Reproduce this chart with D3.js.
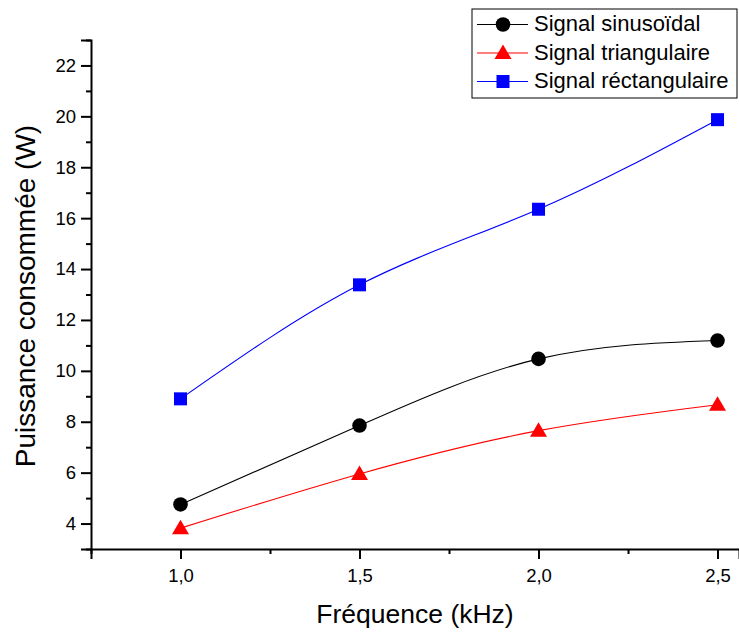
<!DOCTYPE html>
<html>
<head>
<meta charset="utf-8">
<script src="https://cdn.jsdelivr.net/npm/d3@7"></script>
<style>
  body { margin: 0; background: #fff; }
  text { font-family: "Liberation Sans", Arial, sans-serif; fill: #000; }
</style>
</head>
<body>
<div id="chart"></div>
<script>
// frequencies (kHz)
const freq = [1.0, 1.5, 2.0, 2.5];
// power (W) per signal
const sinus = [4.75, 7.85, 10.47, 11.19];
const triangle = [3.82, 5.95, 7.65, 8.67];
const rectangle = [8.9, 13.38, 16.35, 19.87];
const seriesNames = ["Signal sinusoïdal", "Signal triangulaire", "Signal réctangulaire"];
const yTicks = [4, 6, 8, 10, 12, 14, 16, 18, 20, 22];
const yMinor = [3, 5, 7, 9, 11, 13, 15, 17, 19, 21, 23];
const xTicks = [1.0, 1.5, 2.0, 2.5];
const xMinor = [0.75, 1.25, 1.75, 2.25];

const width = 739, height = 635;
const svg = d3.select("#chart").append("svg")
  .attr("width", width).attr("height", height);

const x = d3.scaleLinear().domain([0.75, 2.56]).range([91, 739]);
const y = d3.scaleLinear().domain([3, 23]).range([549, 40]);
const fmt = d3.format(".1f");

// y axis
const yAxis = svg.append("g").attr("transform", "translate(91,0)");
yAxis.call(d3.axisLeft(y).tickValues(yTicks).tickSize(10).tickPadding(5).tickFormat(d => d));
yAxis.append("g").call(d3.axisLeft(y).tickValues(yMinor).tickSize(5).tickFormat(""))
  .select(".domain").remove();
yAxis.selectAll("text").style("font-size", "18.5px").style("font-family", "Liberation Sans, Arial, sans-serif").attr("fill", "#000");

// x axis
const xAxis = svg.append("g").attr("transform", "translate(0,549)");
xAxis.call(d3.axisBottom(x).tickValues(xTicks).tickSize(10).tickPadding(10)
  .tickFormat(d => fmt(d).replace(".", ",")));
xAxis.append("g").call(d3.axisBottom(x).tickValues(xMinor).tickSize(5).tickFormat(""))
  .select(".domain").remove();
xAxis.selectAll("text").style("font-size", "18.5px").style("font-family", "Liberation Sans, Arial, sans-serif").attr("fill", "#000");

svg.selectAll(".domain").attr("stroke", "#000").attr("stroke-width", 2);
svg.selectAll(".tick line").attr("stroke", "#000").attr("stroke-width", 2);

// titles
svg.append("text")
  .attr("x", 415).attr("y", 623)
  .attr("text-anchor", "middle")
  .style("font-size", "26.5px")
  .text("Fréquence (kHz)");

svg.append("text")
  .attr("transform", "translate(35,296) rotate(-90)")
  .attr("text-anchor", "middle")
  .style("font-size", "28px")
  .text("Puissance consommée (W)");

// series
const series = [
  { name: seriesNames[0], values: sinus, color: "#000", shape: "circle" },
  { name: seriesNames[1], values: triangle, color: "#ff0000", shape: "triangle" },
  { name: seriesNames[2], values: rectangle, color: "#0000ff", shape: "square" }
];

const line = d3.line()
  .x((d, i) => x(freq[i]))
  .y(d => y(d))
  .curve(d3.curveNatural);

function marker(g, shape, color) {
  if (shape === "circle") {
    g.append("circle").attr("r", 7.3).attr("fill", color);
  } else if (shape === "triangle") {
    g.append("path").attr("d", "M0,-8.5L8.5,6L-8.5,6Z").attr("fill", color);
  } else {
    g.append("rect").attr("x", -6.5).attr("y", -6.5).attr("width", 13).attr("height", 13).attr("fill", color);
  }
}

series.forEach(s => {
  svg.append("path")
    .datum(s.values)
    .attr("d", line)
    .attr("fill", "none")
    .attr("stroke", s.color)
    .attr("stroke-width", 1.1);
  s.values.forEach((v, i) => {
    const g = svg.append("g").attr("transform", `translate(${x(freq[i])},${y(v)})`);
    marker(g, s.shape, s.color);
  });
});

// legend
const legend = svg.append("g");
legend.append("rect")
  .attr("x", 472).attr("y", 9).attr("width", 265).attr("height", 89)
  .attr("fill", "#fff").attr("stroke", "#000").attr("stroke-width", 1);
series.forEach((s, i) => {
  const cy = 24.5 + i * 28.5;
  legend.append("line")
    .attr("x1", 477).attr("x2", 528).attr("y1", cy).attr("y2", cy)
    .attr("stroke", s.color).attr("stroke-width", 1.1);
  const g = legend.append("g").attr("transform", `translate(503,${cy})`);
  marker(g, s.shape, s.color);
  legend.append("text")
    .attr("x", 534).attr("y", cy + 6.8)
    .style("font-size", "22px")
    .text(s.name);
});
</script>
</body>
</html>
